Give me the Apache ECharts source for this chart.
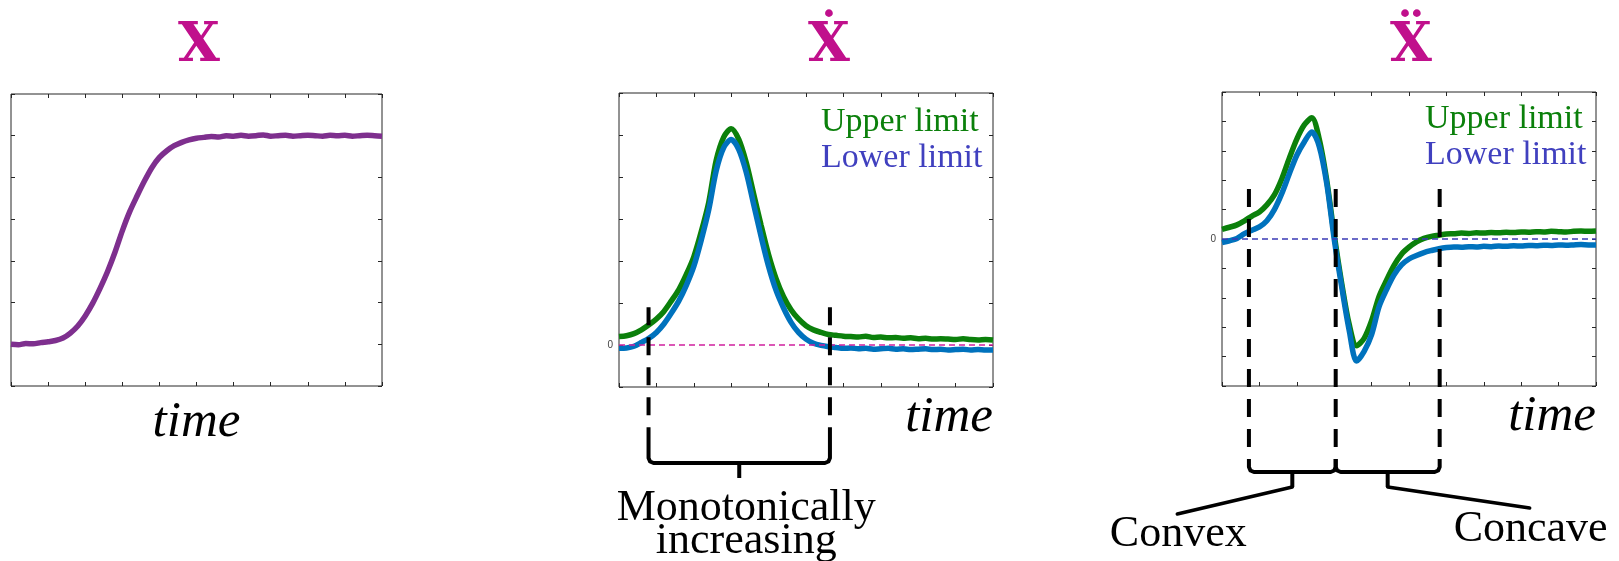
<!DOCTYPE html>
<html>
<head>
<meta charset="utf-8">
<script src="https://cdn.jsdelivr.net/npm/echarts@6/dist/echarts.min.js"></script>
<style>
  html, body { margin: 0; padding: 0; background: #fff; }
  #chart { width: 1619px; height: 561px; }
</style>
</head>
<body>
<div id="chart"></div>
<script>
// 时间轴（三个子图共用）
const timeX = [0, 0.2, 0.4, 0.6, 0.8, 1.0, 1.2, 1.4, 1.6, 1.8,
  2.0, 2.2, 2.4, 2.6, 2.8, 3.0, 3.2, 3.4, 3.6, 3.8,
  4.0, 4.2, 4.4, 4.6, 4.8, 5.0, 5.2, 5.4, 5.6, 5.8,
  6.0, 6.2, 6.4, 6.6, 6.8, 7.0, 7.2, 7.4, 7.6, 7.8,
  8.0, 8.2, 8.4, 8.6, 8.8, 9.0, 9.2, 9.4, 9.6, 9.8, 10]

// X
const xPos = [1.00, 0.99, 1.02, 1.01, 1.04, 1.06, 1.09, 1.15, 1.27, 1.44,
  1.68, 1.98, 2.34, 2.74, 3.20, 3.72, 4.18, 4.56, 4.92, 5.24,
  5.48, 5.64, 5.76, 5.84, 5.90, 5.94, 5.96, 5.98, 5.97, 6.00,
  5.99, 6.01, 5.99, 6.00, 6.02, 5.99, 6.00, 6.01, 5.99, 6.00,
  6.01, 6.00, 5.99, 6.01, 6.00, 6.01, 5.99, 6.00, 6.01, 6.00, 5.99]

// X 一阶导：上限 / 下限
const dxUpper = [0.20, 0.22, 0.27, 0.36, 0.48, 0.62, 0.80, 1.05, 1.32, 1.68,
  2.10, 2.70, 3.40, 4.40, 4.95, 5.15, 4.90, 4.35, 3.60, 2.85,
  2.15, 1.58, 1.15, 0.84, 0.62, 0.46, 0.36, 0.30, 0.25, 0.23,
  0.21, 0.20, 0.19, 0.21, 0.18, 0.19, 0.17, 0.18, 0.16, 0.17,
  0.15, 0.16, 0.14, 0.15, 0.14, 0.13, 0.15, 0.13, 0.12, 0.13, 0.12]
const dxLower = [-0.08, -0.07, -0.03, 0.06, 0.16, 0.30, 0.50, 0.76, 1.05, 1.42,
  1.87, 2.50, 3.22, 4.15, 4.70, 4.89, 4.66, 4.12, 3.35, 2.58,
  1.87, 1.30, 0.88, 0.54, 0.30, 0.14, 0.04, -0.01, -0.04, -0.06,
  -0.08, -0.07, -0.09, -0.08, -0.10, -0.09, -0.08, -0.10, -0.09, -0.11,
  -0.10, -0.09, -0.11, -0.10, -0.12, -0.11, -0.10, -0.12, -0.11, -0.12, -0.12]

// X 二阶导：上限 / 下限
const ddxUpper = [0.33, 0.40, 0.48, 0.62, 0.78, 0.92, 1.16, 1.50, 2.05, 2.75,
  3.40, 3.88, 4.12, 3.40, 2.00, 0.15, -1.50, -2.90, -3.63, -3.38,
  -2.78, -1.95, -1.40, -0.90, -0.52, -0.28, -0.10, 0.02, 0.09, 0.13,
  0.17, 0.18, 0.20, 0.19, 0.21, 0.20, 0.22, 0.21, 0.23, 0.22,
  0.24, 0.23, 0.25, 0.24, 0.26, 0.25, 0.24, 0.26, 0.27, 0.26, 0.27]
const ddxLower = [-0.12, -0.06, 0.02, 0.18, 0.30, 0.41, 0.62, 1.00, 1.55, 2.22,
  2.85, 3.30, 3.64, 3.15, 1.89, 0.00, -1.62, -3.10, -4.15, -3.82,
  -3.25, -2.30, -1.72, -1.22, -0.88, -0.68, -0.56, -0.46, -0.39, -0.33,
  -0.29, -0.27, -0.28, -0.26, -0.27, -0.25, -0.26, -0.24, -0.25, -0.23,
  -0.24, -0.22, -0.23, -0.21, -0.22, -0.20, -0.21, -0.20, -0.19, -0.20, -0.20]

// 分区竖线位置（时间值）及虚线起点（纵轴值）
const dxMarks = [0.79, 5.64]
const dxMarkTop = 0.9
const ddxMarks = [0.72, 3.04, 5.82]
const ddxMarkTop = 1.7

// 文字
const titles = ['X', '\u1E8A', '\u1E8C']
const limitNames = ['Upper limit', 'Lower limit']
const timeName = 'time'
const monoText = ['Monotonically', 'increasing']
const convexText = 'Convex'
const concaveText = 'Concave'

const SERIF = '"Liberation Serif", serif'
const INK = '#262626'
const PURPLE = '#7e2f8e'
const GREEN = '#0b800b'
const BLUE = '#0072bd'
const LOW_TXT = '#4040bf'
const MAGENTA = '#c0108c'

const grids = [
  { left: 11, top: 94, width: 371, height: 292 },
  { left: 619, top: 93, width: 374, height: 294 },
  { left: 1222, top: 92, width: 374, height: 294 }
]
const yRanges = [[0, 7], [-1, 6], [-5, 5]]

function pairs (ys) {
  return timeX.map((t, i) => [t, ys[i]])
}

let xAxes = []
let yAxes = []
grids.forEach((g, i) => {
  let tick = { inside: true, length: 4, lineStyle: { color: INK } }
  let line = { show: false, onZero: false }
  let bottom = {
    type: 'value', gridIndex: i, position: 'bottom', min: 0, max: 10, interval: 1,
    axisLine: line, axisTick: tick, axisLabel: { show: false }, splitLine: { show: false }
  }
  if (i === 0) { // 第一个图的 time 放在轴下方居中
    bottom.name = timeName
    bottom.nameLocation = 'middle'
    bottom.nameGap = 11
    bottom.nameTextStyle = { fontFamily: SERIF, fontStyle: 'italic', fontSize: 51, color: '#000' }
  }
  xAxes.push(bottom)
  xAxes.push({
    type: 'value', gridIndex: i, position: 'top', min: 0, max: 10, interval: 1,
    axisLine: line, axisTick: tick, axisLabel: { show: false }, splitLine: { show: false }
  })
  yAxes.push({
    type: 'value', gridIndex: i, position: 'left', min: yRanges[i][0], max: yRanges[i][1], interval: 1,
    axisLine: line, axisTick: tick, splitLine: { show: false },
    axisLabel: {
      show: i > 0, margin: 6, fontSize: 10, color: '#444',
      formatter: v => (v === 0 ? '0' : '')
    }
  })
  yAxes.push({
    type: 'value', gridIndex: i, position: 'right', min: yRanges[i][0], max: yRanges[i][1], interval: 1,
    axisLine: line, axisTick: tick, axisLabel: { show: false }, splitLine: { show: false }
  })
})

function lineSeries (name, panel, ys, color, extra) {
  return Object.assign({
    name: name,
    type: 'line',
    xAxisIndex: panel * 2,
    yAxisIndex: panel * 2,
    data: pairs(ys),
    symbol: 'none',
    smooth: 0.3,
    lineStyle: { color: color, width: 5.5 },
    itemStyle: { color: color },
    animation: false
  }, extra || {})
}

function zeroLine (color) {
  return {
    silent: true,
    symbol: ['none', 'none'],
    label: { show: false },
    lineStyle: { color: color, type: [6, 4], width: 1.5 },
    data: [{ yAxis: 0 }]
  }
}

function legendAt (left, top) {
  return {
    left: left, top: top, orient: 'vertical', icon: 'none', itemWidth: 0, itemGap: 2,
    padding: 0, selectedMode: false,
    textStyle: { fontFamily: SERIF, fontSize: 34 },
    data: [
      { name: limitNames[0], textStyle: { color: GREEN } },
      { name: limitNames[1], textStyle: { color: LOW_TXT } }
    ]
  }
}

let option = {
  backgroundColor: '#fff',
  grid: grids.map(g => Object.assign({ show: true, borderColor: INK, borderWidth: 1, outerBoundsMode: 'none', containLabel: false }, g)),
  xAxis: xAxes,
  yAxis: yAxes,
  legend: [legendAt(816, 105), legendAt(1420, 102)],
  series: [
    lineSeries('X', 0, xPos, PURPLE),
    lineSeries(limitNames[0], 1, dxUpper, GREEN),
    lineSeries(limitNames[1], 1, dxLower, BLUE, { markLine: zeroLine('#d0209f') }),
    lineSeries(limitNames[0], 2, ddxUpper, GREEN),
    lineSeries(limitNames[1], 2, ddxLower, BLUE, { markLine: zeroLine('#3b3bb5') })
  ]
}

const chart = echarts.init(document.getElementById('chart'))
chart.setOption(option)

// 注释：虚线、括号、文字，位置由坐标轴换算
function px (si, x, y) {
  return chart.convertToPixel({ seriesIndex: si }, [x, y])
}
function text (str, x, baseline, size, extra) {
  return {
    type: 'text', z: 100,
    style: Object.assign({
      text: str, x: x, y: baseline - 0.3 * size,
      font: size + 'px ' + SERIF, fill: '#000',
      textAlign: 'center', textVerticalAlign: 'middle'
    }, extra || {})
  }
}
function dashed (x, y1, y2) {
  return {
    type: 'line', z: 100,
    shape: { x1: x, y1: y1, x2: x, y2: y2 },
    style: { stroke: '#000', lineWidth: 4, lineDash: [18, 12] }
  }
}
function solid (x1, y1, x2, y2) {
  return {
    type: 'line', z: 100,
    shape: { x1: x1, y1: y1, x2: x2, y2: y2 },
    style: { stroke: '#000', lineWidth: 3.5, lineCap: 'round' }
  }
}
function brace (xa, xb, y, endH, tipH) {
  let xm = (xa + xb) / 2
  let r = 5
  return [{
    type: 'polyline', z: 100,
    shape: {
      points: [[xa, y - endH], [xa, y - r], [xa + r * 0.3, y - r * 0.3], [xa + r, y],
        [xb - r, y], [xb - r * 0.3, y - r * 0.3], [xb, y - r], [xb, y - endH]]
    },
    style: { stroke: '#000', fill: null, lineWidth: 4, lineJoin: 'round' }
  }, {
    type: 'line', z: 100,
    shape: { x1: xm, y1: y, x2: xm, y2: y + tipH },
    style: { stroke: '#000', lineWidth: 4 }
  }]
}

let g = []
// 标题
const titleX = [199, 829, 1411]
titles.forEach((t, i) => {
  g.push({
    type: 'text', z: 100,
    style: {
      text: t, x: titleX[i], y: 63 - 0.3 * 54,
      font: 'bold 54px "DejaVu Serif", serif', fill: MAGENTA,
      textAlign: 'center', textVerticalAlign: 'middle'
    }
  })
})

const timeFont = 'italic 51px ' + SERIF

// 一阶导：单调递增区间
let bottom2 = px(1, 0, yRanges[1][0])[1]
let right2 = px(1, 10, 0)[0]
g.push(text(timeName, right2, bottom2 + 46, 51, { textAlign: 'right', font: timeFont }))
let brace2 = bottom2 + 76
let xs2 = dxMarks.map(m => px(1, m, dxMarkTop))
xs2.forEach(p => g.push(dashed(p[0], p[1], brace2 - 23)))
g.push(...brace(xs2[0][0], xs2[1][0], brace2, 23, 15))
let tip2 = (xs2[0][0] + xs2[1][0]) / 2
g.push(text(monoText[0], tip2 + 7, brace2 + 59, 44))
g.push(text(monoText[1], tip2 + 7, brace2 + 92, 44))

// 二阶导：凸 / 凹区间
let bottom3 = px(3, 0, yRanges[2][0])[1]
let right3 = px(3, 10, 0)[0]
g.push(text(timeName, right3, bottom3 + 46, 51, { textAlign: 'right', font: timeFont }))
let brace3 = bottom3 + 86
let xs3 = ddxMarks.map(m => px(3, m, ddxMarkTop))
xs3.forEach(p => g.push(dashed(p[0], p[1], brace3 - 13)))
g.push(...brace(xs3[0][0], xs3[1][0], brace3, 13, 15))
g.push(...brace(xs3[1][0], xs3[2][0], brace3, 13, 15))
let tipL = (xs3[0][0] + xs3[1][0]) / 2
let tipR = (xs3[1][0] + xs3[2][0]) / 2
g.push(solid(tipL, brace3 + 15, tipL - 115, brace3 + 42))
g.push(solid(tipR, brace3 + 15, tipR + 142, brace3 + 36))
g.push(text(convexText, tipL - 114, brace3 + 76, 44))
g.push(text(concaveText, tipR + 143, brace3 + 71, 44))

chart.setOption({ graphic: g })
</script>
</body>
</html>
